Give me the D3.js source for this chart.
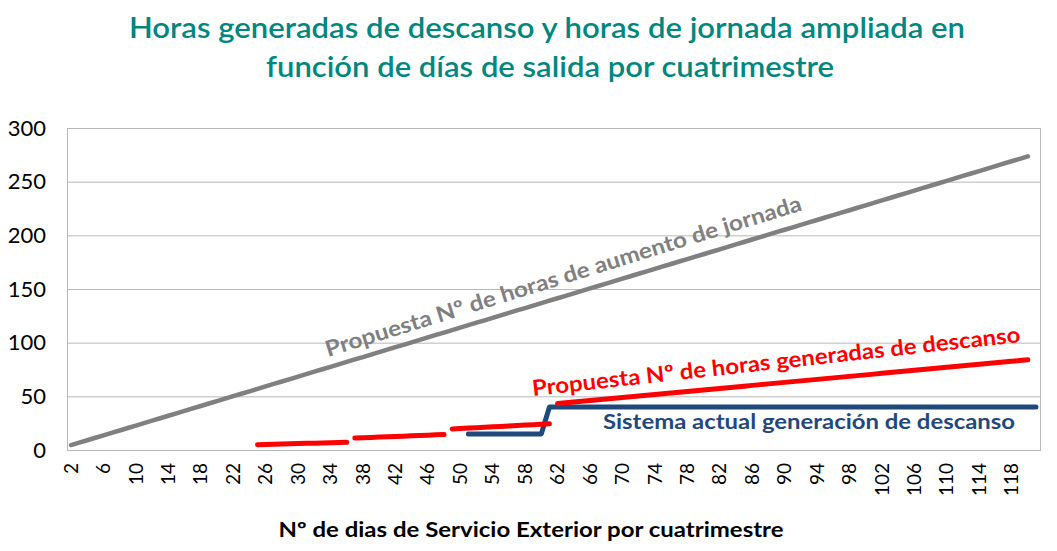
<!DOCTYPE html>
<html>
<head>
<meta charset="utf-8">
<script src="https://cdn.jsdelivr.net/npm/d3@7"></script>
<style>
  html, body { margin: 0; padding: 0; background: #ffffff; }
  svg { display: block; }
  text { font-family: Lato, "Open Sans", sans-serif; }
</style>
</head>
<body>
<svg id="chart" width="1057" height="551"></svg>
<script>
// ---------------- DATA ----------------
const titleLines = [
  "Horas generadas de descanso y horas de jornada ampliada en",
  "función de días de salida por cuatrimestre"
];
const xAxisTitle = "Nº de dias de Servicio Exterior por cuatrimestre";
const days = d3.range(2, 122); // categories 2..121
const xTickLabels = [2, 6, 10, 14, 18, 22, 26, 30, 34, 38, 42, 46, 50, 54, 58, 62, 66, 70, 74, 78, 82, 86, 90, 94, 98, 102, 106, 110, 114, 118];
const yTickLabels = [0, 50, 100, 150, 200, 250, 300];

// Propuesta Nº de horas de aumento de jornada (days 2..120)
const grayStart = 2;
const grayValues = [
  4.6, 6.8, 9.1, 11.4, 13.7, 16.0, 18.2, 20.5, 22.8, 25.1,
  27.4, 29.6, 31.9, 34.2, 36.5, 38.8, 41.0, 43.3, 45.6, 47.9,
  50.2, 52.4, 54.7, 57.0, 59.3, 61.6, 63.8, 66.1, 68.4, 70.7,
  73.0, 75.2, 77.5, 79.8, 82.1, 84.4, 86.6, 88.9, 91.2, 93.5,
  95.8, 98.0, 100.3, 102.6, 104.9, 107.2, 109.4, 111.7, 114.0, 116.3,
  118.6, 120.8, 123.1, 125.4, 127.7, 130.0, 132.2, 134.5, 136.8, 139.1,
  141.4, 143.6, 145.9, 148.2, 150.5, 152.8, 155.0, 157.3, 159.6, 161.9,
  164.2, 166.4, 168.7, 171.0, 173.3, 175.6, 177.8, 180.1, 182.4, 184.7,
  187.0, 189.2, 191.5, 193.8, 196.1, 198.4, 200.6, 202.9, 205.2, 207.5,
  209.8, 212.0, 214.3, 216.6, 218.9, 221.2, 223.4, 225.7, 228.0, 230.3,
  232.6, 234.8, 237.1, 239.4, 241.7, 244.0, 246.2, 248.5, 250.8, 253.1,
  255.4, 257.6, 259.9, 262.2, 264.5, 266.8, 269.0, 271.3, 273.6
];

// Propuesta Nº de horas generadas de descanso (four separate pieces)
const redStart1 = 25;
const redValues1 = [5.0, 5.2, 5.4, 5.6, 5.8, 6.0, 6.2, 6.4, 6.6, 6.8, 7.0, 7.2];
const redStart2 = 37;
const redValues2 = [11.1, 11.4, 11.7, 12.0, 12.3, 12.6, 12.9, 13.2, 13.5, 13.8, 14.1, 14.4];
const redStart3 = 49;
const redValues3 = [19.6, 20.0, 20.4, 20.8, 21.2, 21.6, 22.0, 22.4, 22.8, 23.2, 23.6, 24.0, 24.4];
const redStart4 = 62;
const redValues4 = [
  43.4, 44.1, 44.8, 45.5, 46.2, 46.9, 47.6, 48.3, 49.0, 49.7,
  50.4, 51.1, 51.8, 52.5, 53.2, 53.9, 54.6, 55.3, 56.0, 56.7,
  57.4, 58.1, 58.8, 59.5, 60.2, 60.9, 61.6, 62.3, 63.0, 63.7,
  64.4, 65.1, 65.8, 66.5, 67.2, 67.9, 68.6, 69.3, 70.0, 70.7,
  71.4, 72.1, 72.8, 73.5, 74.2, 74.9, 75.6, 76.3, 77.0, 77.7,
  78.4, 79.1, 79.8, 80.5, 81.2, 81.9, 82.6, 83.3, 84.0
];

// Sistema actual generación de descanso (days 51..121)
const blueStart = 51;
const blueValues = [
  15, 15, 15, 15, 15, 15, 15, 15, 15, 15,
  40, 40, 40, 40, 40, 40, 40, 40, 40, 40,
  40, 40, 40, 40, 40, 40, 40, 40, 40, 40,
  40, 40, 40, 40, 40, 40, 40, 40, 40, 40,
  40, 40, 40, 40, 40, 40, 40, 40, 40, 40,
  40, 40, 40, 40, 40, 40, 40, 40, 40, 40,
  40, 40, 40, 40, 40, 40, 40, 40, 40, 40,
  40
];

const seriesLabels = {
  gray: "Propuesta Nº de horas de aumento de jornada",
  red: "Propuesta Nº de horas generadas de descanso",
  blue: "Sistema actual generación de descanso"
};

// ---------------- DRAW ----------------
const svg = d3.select("#chart");
const plot = { left: 67, right: 1040, top: 128, bottom: 450 };

const x = d3.scaleBand().domain(days).range([plot.left, plot.right]).padding(0);
const xc = d => x(d) + x.bandwidth() / 2;
const y = d3.scaleLinear().domain([0, 300]).range([plot.bottom, plot.top]);

const toPoints = (start, vals) => vals.map((v, i) => ({ day: start + i, value: v }));
const line = d3.line().x(p => xc(p.day)).y(p => y(p.value));

// Title
const teal = "#00877f";
svg.append("text")
  .attr("x", 547).attr("y", 38)
  .attr("text-anchor", "middle")
  .attr("font-size", 29).attr("font-weight", 600).attr("fill", teal)
  .attr("textLength", 836).attr("lengthAdjust", "spacingAndGlyphs")
  .text(titleLines[0]);
svg.append("text")
  .attr("x", 550).attr("y", 77)
  .attr("text-anchor", "middle")
  .attr("font-size", 29).attr("font-weight", 600).attr("fill", teal)
  .attr("textLength", 568).attr("lengthAdjust", "spacingAndGlyphs")
  .text(titleLines[1]);

// Gridlines
const gridColor = "#b8b8b8";
svg.append("g")
  .attr("transform", `translate(${plot.left},0)`)
  .call(d3.axisLeft(y).tickValues(yTickLabels).tickSize(-(plot.right - plot.left)).tickFormat(""))
  .call(g => g.select(".domain").remove())
  .call(g => g.selectAll("line").attr("stroke", gridColor).attr("stroke-width", 1));

// Plot border
svg.append("rect")
  .attr("x", plot.left + 0.5).attr("y", plot.top + 0.5)
  .attr("width", plot.right - plot.left).attr("height", plot.bottom - plot.top)
  .attr("fill", "none").attr("stroke", gridColor).attr("stroke-width", 1);

// Y axis labels
const yAxis = svg.append("g")
  .attr("transform", `translate(${plot.left},0)`)
  .call(d3.axisLeft(y).tickValues(yTickLabels).tickSize(0).tickPadding(21));
yAxis.select(".domain").remove();
yAxis.selectAll("text")
  .attr("font-size", 22).attr("fill", "#000")
  .style("font-family", "Lato, 'Open Sans', sans-serif");

// X axis labels
const xAxis = svg.append("g")
  .attr("transform", `translate(0,${plot.bottom})`)
  .call(d3.axisBottom(x).tickValues(xTickLabels).tickSize(0).tickPadding(0));
xAxis.select(".domain").remove();
xAxis.selectAll("text")
  .attr("font-size", 19).attr("fill", "#000")
  .style("font-family", "Lato, 'Open Sans', sans-serif")
  .attr("text-anchor", "end")
  .attr("transform", "rotate(-90)")
  .attr("x", -13).attr("y", 0).attr("dy", "0.35em");

// X axis title
svg.append("text")
  .attr("x", 531).attr("y", 537)
  .attr("text-anchor", "middle")
  .attr("font-size", 21).attr("font-weight", "bold").attr("fill", "#000")
  .attr("textLength", 505).attr("lengthAdjust", "spacingAndGlyphs")
  .text(xAxisTitle);

// Lines
const grayColor = "#808080", redColor = "#ff0000", blueColor = "#1f497d";
const lines = svg.append("g").attr("fill", "none").attr("stroke-linecap", "round").attr("stroke-linejoin", "round");
lines.append("path").datum(toPoints(blueStart, blueValues))
  .attr("d", line).attr("stroke", blueColor).attr("stroke-width", 5);
lines.append("path").datum(toPoints(grayStart, grayValues))
  .attr("d", line).attr("stroke", grayColor).attr("stroke-width", 4.5);
[[redStart1, redValues1], [redStart2, redValues2], [redStart3, redValues3], [redStart4, redValues4]]
  .forEach(([s, v]) => {
    lines.append("path").datum(toPoints(s, v))
      .attr("d", line).attr("stroke", redColor).attr("stroke-width", 5);
  });

// Series annotations
function slanted(text, x0, y0, x1, y1, color, size) {
  const ang = Math.atan2(y1 - y0, x1 - x0) * 180 / Math.PI;
  const len = Math.hypot(x1 - x0, y1 - y0);
  svg.append("text")
    .attr("transform", `translate(${x0},${y0}) rotate(${ang})`)
    .attr("font-size", size).attr("font-weight", "bold").attr("fill", color)
    .attr("textLength", len).attr("lengthAdjust", "spacingAndGlyphs")
    .text(text);
}
slanted(seriesLabels.gray, 328, 357, 803, 210, grayColor, 22);
slanted(seriesLabels.red, 533, 396, 1021, 342, redColor, 22);
svg.append("text")
  .attr("x", 603).attr("y", 429)
  .attr("font-size", 21).attr("font-weight", "bold").attr("fill", blueColor)
  .attr("textLength", 412).attr("lengthAdjust", "spacingAndGlyphs")
  .text(seriesLabels.blue);
</script>
</body>
</html>
